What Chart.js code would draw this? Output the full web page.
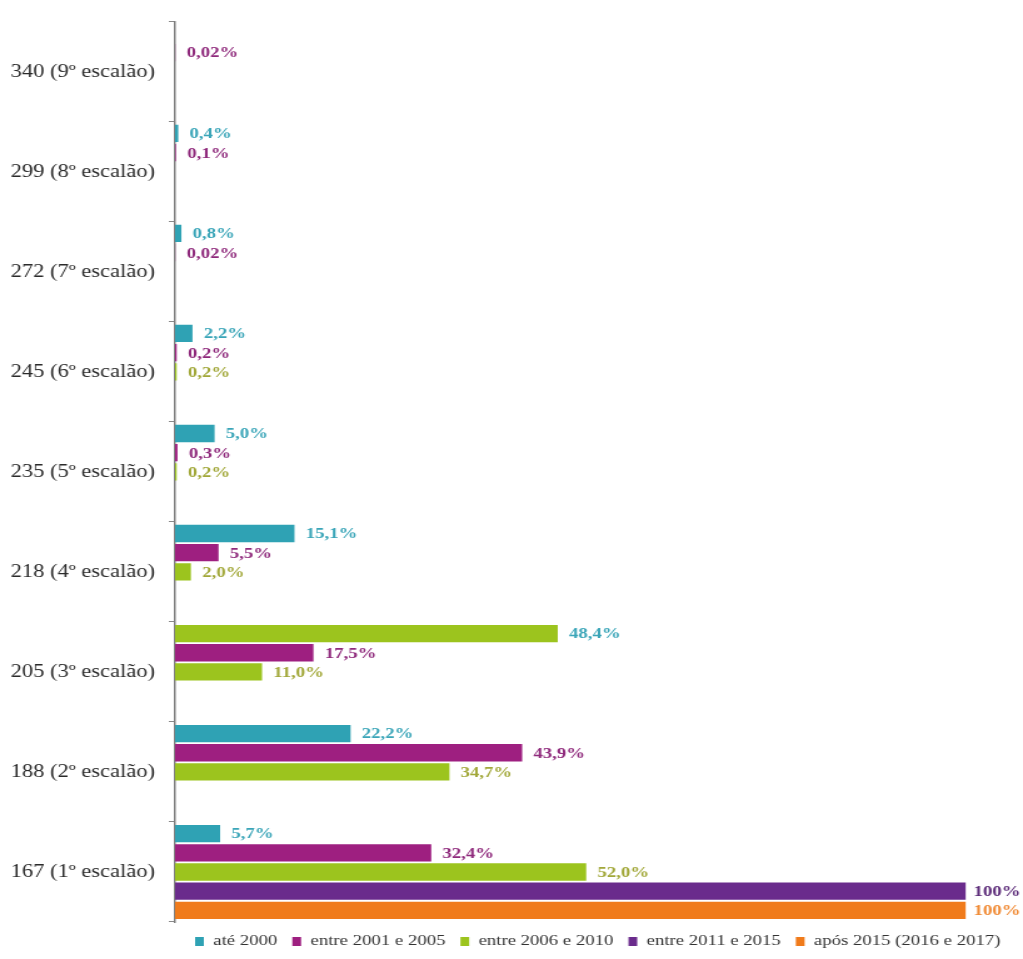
<!DOCTYPE html>
<html>
<head>
<meta charset="utf-8">
<script src="https://cdn.jsdelivr.net/npm/chart.js@4/dist/chart.umd.min.js"></script>
<style>
  html, body { margin: 0; padding: 0; background: #fff; }
  /* the reference is horizontally stretched, so the canvas is drawn narrower and scaled up */
  #chart { width: 1023px; height: 959px; }
</style>
</head>
<body>
<canvas id="chart" width="818" height="959" style="width:1023px;height:959px"></canvas>
<script>
// DATA
const categories = [
  '340 (9º escalão)', '299 (8º escalão)', '272 (7º escalão)',
  '245 (6º escalão)', '235 (5º escalão)', '218 (4º escalão)',
  '205 (3º escalão)', '188 (2º escalão)', '167 (1º escalão)'
];
const seriesNames = ['até 2000', 'entre 2001 e 2005', 'entre 2006 e 2010', 'entre 2011 e 2015', 'após 2015 (2016 e 2017)'];
const ate2000   = [null, 0.4, 0.8, 2.2, 5.0, 15.1, 48.4, 22.2, 5.7];
const de2001    = [0.02, 0.1, 0.02, 0.2, 0.3, 5.5, 17.5, 43.9, 32.4];
const de2006    = [null, null, null, 0.2, 0.2, 2.0, 11.0, 34.7, 52.0];
const de2011    = [null, null, null, null, null, null, null, null, 100];
const apos2015  = [null, null, null, null, null, null, null, null, 100];

const TEAL = '#2fa2b4', MAGENTA = '#9e1f80', GREEN = '#9cc41e', PURPLE = '#6a2b8c', ORANGE = '#f07b1b';

function fmt(v) {
  if (v === 100) return '100%';
  return (v < 0.1 ? v.toFixed(2) : v.toFixed(1)).replace('.', ',') + '%';
}

// value labels drawn right after each bar
const valueLabels = {
  id: 'valueLabels',
  afterDatasetsDraw(chart) {
    const ctx = chart.ctx;
    ctx.save();
    ctx.font = 'bold 15px "Liberation Serif"';
    ctx.textBaseline = 'middle';
    ctx.textAlign = 'left';
    chart.data.datasets.forEach((ds, i) => {
      chart.getDatasetMeta(i).data.forEach((bar, j) => {
        const v = ds.data[j];
        if (v == null) return;
        const txt = fmt(v);
        const w = ctx.measureText(txt).width;
        const x = Math.min(bar.x + 9, chart.width - w - 2);
        ctx.fillStyle = ds.labelColor;
        ctx.fillText(txt, x, bar.y + 1);
      });
    });
    ctx.restore();
  }
};

new Chart(document.getElementById('chart'), {
  type: 'bar',
  data: {
    labels: categories,
    datasets: [
      {
        label: seriesNames[0], data: ate2000, labelColor: '#3aa5b8',
        // in the original the 3º escalão bar of this series is painted green
        backgroundColor: c => categories[c.dataIndex] === '205 (3º escalão)' ? GREEN : TEAL
      },
      { label: seriesNames[1], data: de2001, backgroundColor: MAGENTA, labelColor: '#8f2a7c' },
      { label: seriesNames[2], data: de2006, backgroundColor: GREEN, labelColor: '#a2a83a' },
      { label: seriesNames[3], data: de2011, backgroundColor: PURPLE, labelColor: '#5b2a78' },
      { label: seriesNames[4], data: apos2015, backgroundColor: ORANGE, labelColor: '#f08a34' }
    ]
  },
  options: {
    indexAxis: 'y',
    responsive: false,
    animation: false,
    devicePixelRatio: 1,
    categoryPercentage: 0.96,
    barPercentage: 0.9,
    layout: { padding: { top: 15, left: 9, right: 6, bottom: 0 } },
    scales: {
      x: { display: false, min: 0, max: 106.3 },
      y: {
        afterFit: s => { s.width = 131; },
        grid: { drawOnChartArea: false, drawTicks: true, tickLength: 5, offset: true, color: '#8a8a8a' },
        border: { display: true, color: '#7f7f7f', width: 1.5 },
        ticks: { padding: 11, color: '#2a2a2a', font: { family: 'Liberation Serif', size: 18 } }
      }
    },
    plugins: {
      tooltip: { enabled: false },
      legend: {
        position: 'bottom',
        align: 'end',
        labels: {
          boxWidth: 7, boxHeight: 9, padding: 12,
          color: '#333',
          font: { family: 'Liberation Serif', size: 15 }
        }
      }
    }
  },
  plugins: [valueLabels]
});
</script>
</body>
</html>
